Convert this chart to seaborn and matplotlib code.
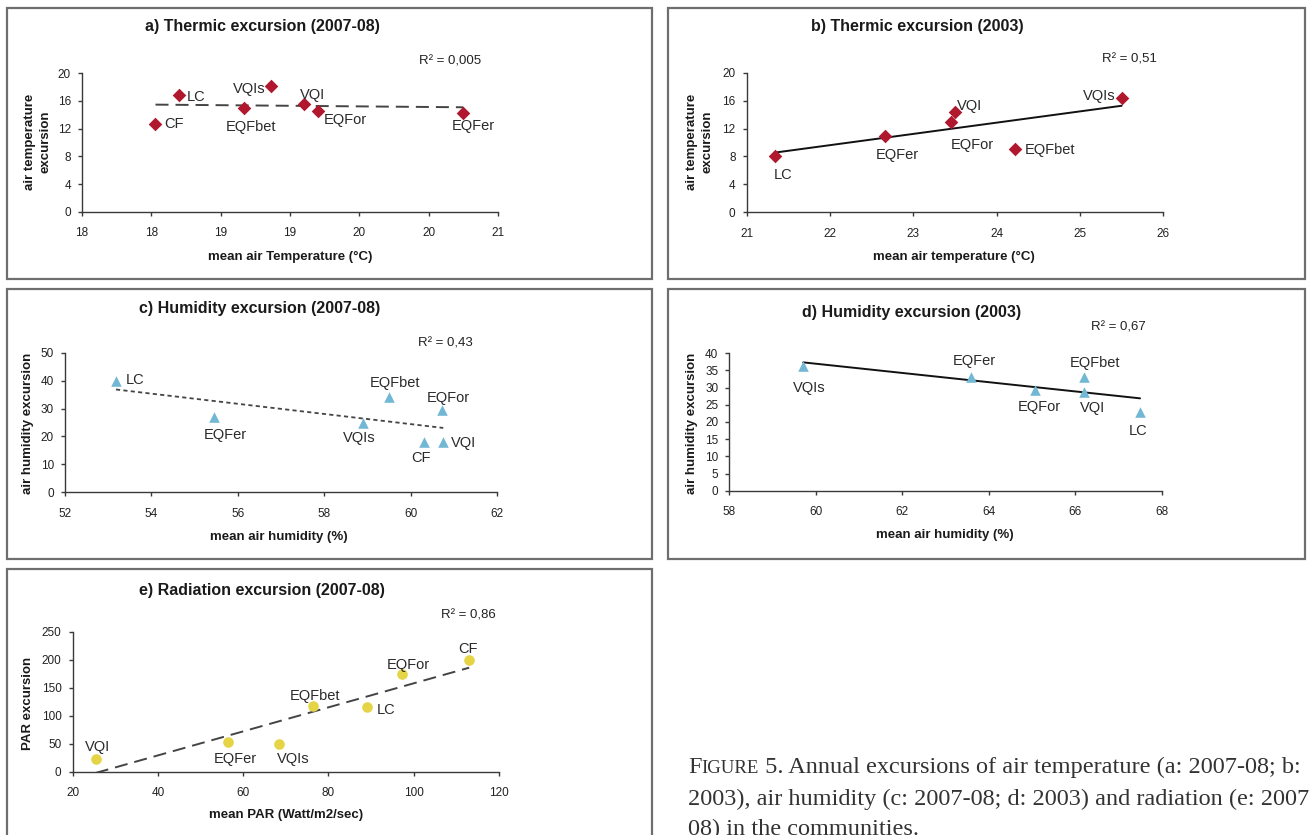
import numpy as np
import pandas as pd
import matplotlib
matplotlib.use("Agg")
import matplotlib.pyplot as plt
import matplotlib.patches as patches
import seaborn as sns

# figure size in pixels
W, H = 1309, 835

# a) Thermic excursion (2007-08)
A_NAMES = ["CF", "LC", "EQFbet", "VQIs", "VQI", "EQFor", "EQFer"]
A_X = [18.03, 18.2, 18.67, 18.86, 19.1, 19.2, 20.25]
A_Y = [12.7, 16.9, 15.0, 18.2, 15.5, 14.6, 14.2]
A_XTICKLABELS = ["18", "18", "19", "19", "20", "20", "21"]

# b) Thermic excursion (2003)
B_NAMES = ["LC", "EQFer", "EQFor", "VQI", "EQFbet", "VQIs"]
B_X = [21.34, 22.66, 23.45, 23.5, 24.22, 25.5]
B_Y = [8.1, 10.9, 13.0, 14.3, 9.0, 16.4]

# c) Humidity excursion (2007-08)
C_NAMES = ["LC", "EQFer", "VQIs", "EQFbet", "EQFor", "CF", "VQI"]
C_X = [53.18, 55.45, 58.9, 59.5, 60.71, 60.3, 60.75]
C_Y = [40.0, 27.1, 24.9, 34.0, 29.5, 17.9, 17.9]

# d) Humidity excursion (2003)
D_NAMES = ["VQIs", "EQFer", "EQFor", "EQFbet", "VQI", "LC"]
D_X = [59.71, 63.6, 65.07, 66.2, 66.2, 67.5]
D_Y = [36.3, 33.2, 29.3, 33.2, 28.8, 23.0]

# e) Radiation excursion (2007-08)
E_NAMES = ["VQI", "EQFer", "VQIs", "EQFbet", "LC", "EQFor", "CF"]
E_X = [25.4, 56.4, 68.5, 76.4, 89.0, 97.3, 113.0]
E_Y = [22.6, 53.6, 48.8, 117.9, 114.9, 174.4, 199.4]

R2_TEXT = ["R² = 0,005", "R² = 0,51", "R² = 0,43", "R² = 0,67", "R² = 0,86"]

# label offsets (pixels, y up) for each point label
A_OFF = [(19, 0), (17, -2), (7, -19), (-21, -3), (9, 9), (28, -9), (10, -13)]
B_OFF = [(8, -19), (12, -19), (21, -23), (15, 6), (35, -1), (-22, 2)]
C_OFF = [(19, 1), (11, -18), (-4, -15), (6, 14), (7, 12), (-3, -16), (20, -1)]
D_OFF = [(6, -22), (3, 16), (4, -17), (11, 14), (9, -16), (-2, -19)]
E_OFF = [(2, 12), (7, -17), (14, -15), (2, 10), (19, -3), (6, 9), (-1, 11)]

RED = "#B0182E"
BLUE = "#72B8D4"
YELLOW = "#E5D445"

sns.set_theme(style="white")
plt.rcParams["font.family"] = ["Liberation Sans", "DejaVu Sans"]

fig = plt.figure(figsize=(W / 100, H / 100), dpi=100)
fig.patch.set_facecolor("white")


def px_axes(left, right, bottom, top):
    return fig.add_axes([left / W, 1 - bottom / H, (right - left) / W, (bottom - top) / H])


def ftext(x, y, s, **kw):
    return fig.text(x / W, 1 - y / H, s, **kw)


def panel_box(x0, y0, x1, y1):
    rect = patches.Rectangle((x0 / W, 1 - y1 / H), (x1 - x0) / W, (y1 - y0) / H,
                             transform=fig.transFigure, fill=False,
                             ec="#6e6e6e", lw=1.6, zorder=0)
    fig.add_artist(rect)


def draw_panel(ax, names, xs, ys, offs, color, marker, msize, line_kws):
    df = pd.DataFrame({"x": xs, "y": ys, "name": names})
    sns.regplot(data=df, x="x", y="y", ax=ax, ci=None, scatter=False,
                truncate=True, line_kws=line_kws)
    sns.scatterplot(data=df, x="x", y="y", ax=ax, color=color, marker=marker,
                    s=msize, linewidth=0, zorder=3, clip_on=False)
    for (name, x, y), (dx, dy) in zip(zip(names, xs, ys), offs):
        ax.annotate(name, (x, y), xytext=(dx, dy), textcoords="offset pixels",
                    ha="center", va="center", fontsize=10.5, color="#2a2a2a")
    ax.set_xlabel("")
    ax.set_ylabel("")
    for sp in ["top", "right"]:
        ax.spines[sp].set_visible(False)
    for sp in ["left", "bottom"]:
        ax.spines[sp].set_color("#3a3a3a")
        ax.spines[sp].set_linewidth(1.0)
    ax.tick_params(axis="both", direction="out", length=3, width=1,
                   color="#3a3a3a", labelsize=8.5, labelcolor="#222222",
                   bottom=True, left=True)
    ax.tick_params(axis="x", pad=8)
    ax.tick_params(axis="y", pad=5)
    ax.patch.set_alpha(0)


# panel frames
panel_box(7, 8, 652, 279)
panel_box(668, 8, 1305, 279)
panel_box(7, 289, 652, 559)
panel_box(668, 289, 1305, 559)
panel_box(7, 569, 652, 845)

dash_long = dict(color="#444444", lw=1.4, dashes=(6.7, 3.6))
dash_short = dict(color="#444444", lw=1.3, dashes=(2.3, 1.8))
solid = dict(color="#111111", lw=1.4)

# a
ax_a = px_axes(82, 498, 212, 73)
draw_panel(ax_a, A_NAMES, A_X, A_Y, A_OFF, RED, "D", 48, dash_long)
ax_a.set_xlim(17.5, 20.5)
ax_a.set_ylim(0, 20)
ax_a.set_xticks(np.arange(17.5, 20.51, 0.5))
ax_a.set_xticklabels(A_XTICKLABELS)
ax_a.set_yticks(np.arange(0, 21, 4))

# b
ax_b = px_axes(746.7, 1163.3, 212.3, 72.7)
draw_panel(ax_b, B_NAMES, B_X, B_Y, B_OFF, RED, "D", 48, solid)
ax_b.set_xlim(21, 26)
ax_b.set_ylim(0, 20)
ax_b.set_xticks(np.arange(21, 26.1, 1))
ax_b.set_yticks(np.arange(0, 21, 4))

# c
ax_c = px_axes(65, 497.3, 492.3, 352.7)
draw_panel(ax_c, C_NAMES, C_X, C_Y, C_OFF, BLUE, "^", 58, dash_short)
ax_c.set_xlim(52, 62)
ax_c.set_ylim(0, 50)
ax_c.set_xticks(np.arange(52, 62.1, 2))
ax_c.set_yticks(np.arange(0, 51, 10))

# d
ax_d = px_axes(729.3, 1161.7, 490.7, 353.3)
draw_panel(ax_d, D_NAMES, D_X, D_Y, D_OFF, BLUE, "^", 58, solid)
ax_d.set_xlim(58, 68)
ax_d.set_ylim(0, 40)
ax_d.set_xticks(np.arange(58, 68.1, 2))
ax_d.set_yticks(np.arange(0, 41, 5))

# e
ax_e = px_axes(72.7, 499, 771.7, 631.7)
draw_panel(ax_e, E_NAMES, E_X, E_Y, E_OFF, YELLOW, "o", 58, dash_long)
ax_e.set_xlim(20, 120)
ax_e.set_ylim(0, 250)
ax_e.set_xticks(np.arange(20, 121, 20))
ax_e.set_yticks(np.arange(0, 251, 50))

# titles
title_kw = dict(fontsize=11.5, fontweight="bold", color="#1a1a1a", ha="center", va="center")
ftext(262, 27, "a) Thermic excursion (2007-08)", **title_kw)
ftext(917, 27, "b) Thermic excursion (2003)", **title_kw)
ftext(260, 309, "c) Humidity excursion (2007-08)", **title_kw)
ftext(912, 312, "d) Humidity excursion (2003)", **title_kw)
ftext(262, 590, "e) Radiation excursion (2007-08)", **title_kw)

# R squared
r2_kw = dict(fontsize=9.5, color="#222222", ha="center", va="center")
ftext(450, 61, R2_TEXT[0], **r2_kw)
ftext(1129, 60, R2_TEXT[1], **r2_kw)
ftext(445, 343, R2_TEXT[2], **r2_kw)
ftext(1118, 328, R2_TEXT[3], **r2_kw)
ftext(468, 615, R2_TEXT[4], **r2_kw)

# axis labels
lab_kw = dict(fontsize=9.5, fontweight="bold", color="#1a1a1a", ha="center", va="center")
ftext(290, 257, "mean air Temperature (°C)", **lab_kw)
ftext(954, 257, "mean air temperature (°C)", **lab_kw)
ftext(279, 537, "mean air humidity (%)", **lab_kw)
ftext(945, 535, "mean air humidity (%)", **lab_kw)
ftext(286, 815, "mean PAR (Watt/m2/sec)", **lab_kw)

ftext(38, 142, "air temperature\nexcursion", rotation=90, linespacing=1.35, **lab_kw)
ftext(700, 142, "air temperature\nexcursion", rotation=90, linespacing=1.35, **lab_kw)
ftext(28, 423, "air humidity excursion", rotation=90, **lab_kw)
ftext(692, 423, "air humidity excursion", rotation=90, **lab_kw)
ftext(28, 703, "PAR excursion", rotation=90, **lab_kw)

# caption (small caps for FIGURE)
cap_kw = dict(family=["Liberation Serif", "DejaVu Serif"], color="#333333", va="baseline")
renderer = fig.canvas.get_renderer()
pieces = [("F", 17.5), ("IGURE", 13.5),
          (" 5. Annual excursions of air temperature (a: 2007-08; b:", 17.5)]
x = 688
for s, size in pieces:
    t = ftext(x, 773, s, fontsize=size, **cap_kw)
    x = t.get_window_extent(renderer).x1
ftext(688, 805, "2003), air humidity (c: 2007-08; d: 2003) and radiation (e: 2007-",
      fontsize=17.5, **cap_kw)
ftext(688, 835, "08) in the communities.", fontsize=17.5, **cap_kw)

fig.savefig("out.png", dpi=100, facecolor="white")
